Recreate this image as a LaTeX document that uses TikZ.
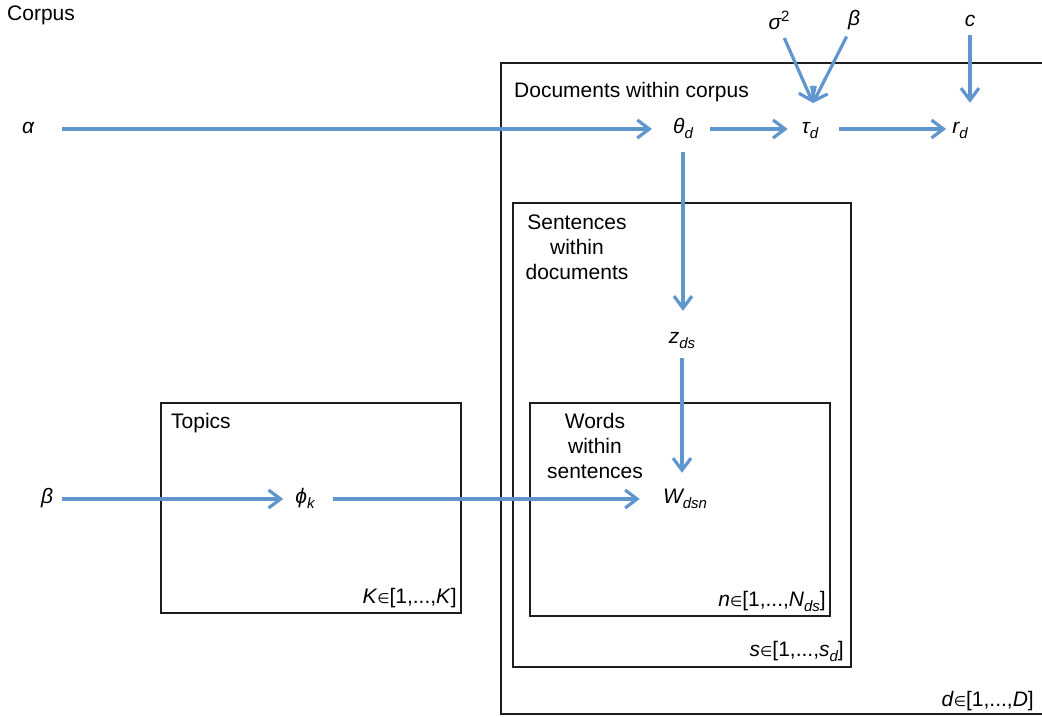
\documentclass[tikz,border=0pt]{standalone}
\usepackage{fontspec}
\setmainfont{Liberation Sans}
\newfontfamily\symfont{DejaVu Sans}
\usetikzlibrary{arrows.meta}
\definecolor{edgeblue}{RGB}{96,150,206}
\definecolor{platecol}{RGB}{30,30,30}
% subscript, superscript and set-membership helpers
\newcommand\sbs[1]{\raisebox{-0.28em}{\fontsize{15}{15}\selectfont\itshape #1}}
\newcommand\sps[1]{\raisebox{0.42em}{\fontsize{15}{15}\selectfont\upshape #1}}
\newcommand\elem{{\symfont\fontsize{14}{14}\selectfont ∈}}
\begin{document}
\begin{tikzpicture}[x=1pt,y=-1pt,
  every node/.style={font=\fontsize{21}{25}\selectfont},
  var/.style={inner sep=0pt, text height=14pt, text depth=6pt, font=\fontsize{21}{25}\selectfont\itshape},
  lbl/.style={inner sep=0pt},
  plate/.style={draw=platecol, line width=1.3pt},
  arr/.style={draw=edgeblue, line width=3.2pt, -{Straight Barb[length=12pt,width=18pt]}}]
\useasboundingbox (0,0) rectangle (1042,717);
\clip (0,0) rectangle (1042,717);

% plates
\draw[plate] (501,63) rectangle (1050,714);
\draw[plate] (513,203) rectangle (851,667);
\draw[plate] (530,403) rectangle (830,616);
\draw[plate] (161,403) rectangle (461,613);

% plate titles
\node[lbl, anchor=base west] (corpus) at (7,21) {Corpus};
\node[lbl, anchor=base west] (docs) at (514,97) {Documents within corpus};
\node[lbl, align=center, anchor=north] (sents) at (577,215) {Sentences\\within\\documents};
\node[lbl, align=center, anchor=north] (words) at (595,413) {Words\\within\\sentences};
\node[lbl, anchor=base west] (topics) at (171,428) {Topics};

% plate ranges
\node[lbl, anchor=base east] (krange) at (457,603) {\textit{K}\elem[1,...,\textit{K}]};
\node[lbl, anchor=base east] (nrange) at (826,606) {\textit{n}\elem[1,...,\textit{N}\sbs{ds}]};
\node[lbl, anchor=base east] (srange) at (844,656) {\textit{s}\elem[1,...,\textit{s}\sbs{d}]};
\node[lbl, anchor=base east] (drange) at (1034,706) {\textit{d}\elem[1,...,\textit{D}]};

% variables
\node[var] (alpha) at (28,129) {α};
\node[var] (theta) at (683,129) {θ\sbs{d}};
\node[var] (tau) at (810,129) {τ\sbs{d}};
\node[var] (rd) at (960,129) {r\sbs{d}};
\node[var] (sigma) at (779,26) {σ\sps{2}};
\node[var] (betatop) at (854,22) {β};
\node[var] (cc) at (970,23) {c};
\coordinate (tauin) at (813,103);
\node[var] (zds) at (682,339) {z\sbs{ds}};
\node[var] (W) at (685,499) {W\sbs{dsn}};
\node[var] (phi) at (305,499) {ϕ\sbs{k}};
\node[var] (betaleft) at (47,499) {β};

% connectors
\draw[arr, shorten <=28pt, shorten >=21pt] (alpha) -- (theta);
\draw[arr, shorten <=17pt, shorten >=14pt] (theta) -- (tau);
\draw[arr, shorten <=21pt, shorten >=6pt] (tau) -- (rd);
\draw[arr, shorten <=2pt] (sigma) -- (tauin);
\draw[arr, shorten <=5pt] (betatop) -- (tauin);
\draw[arr, shorten <=2pt, shorten >=16pt] (cc.south) -- (cc.south |- rd.north);
\draw[arr, shorten <=13pt, shorten >=18pt] (theta.south) -- (theta.south |- zds.north);
\draw[arr, shorten <=9pt, shorten >=16pt] (zds.south) -- (zds.south |- W.north);
\draw[arr, shorten <=9pt, shorten >=12pt] (betaleft) -- (phi);
\draw[arr, shorten <=18pt, shorten >=23pt] (phi) -- (W);
\end{tikzpicture}
\end{document}
